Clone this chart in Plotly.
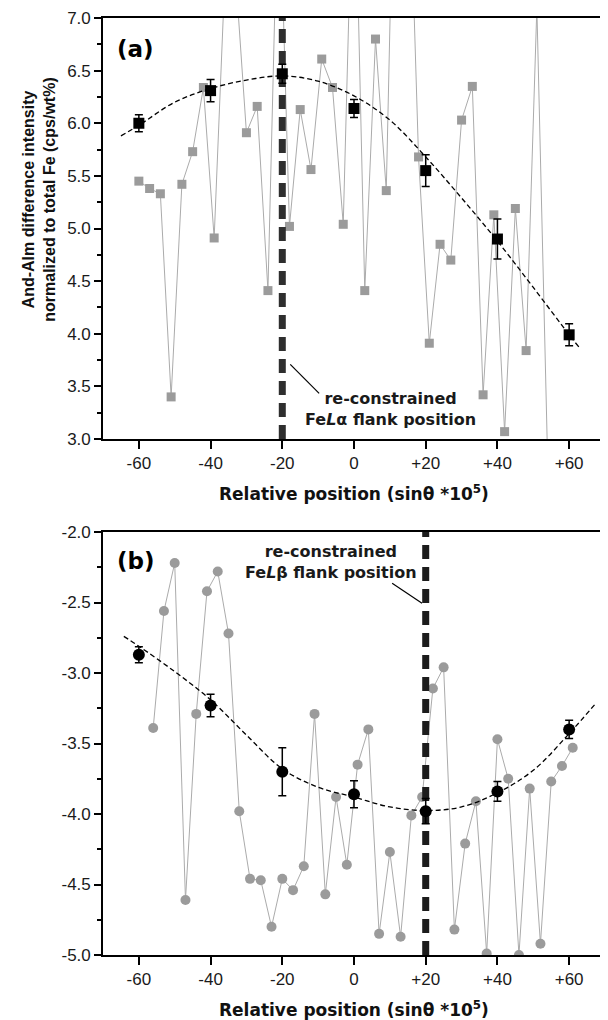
import plotly.graph_objects as go

# ---------------- data: panel (a) ----------------
scan_a_x = [-60, -57, -54, -51, -48, -45, -42, -39, -36, -33, -30, -27, -24, -21, -18, -15, -12, -9, -6, -3,
            0, 3, 6, 9, 12, 15, 18, 21, 24, 27, 30, 33, 36, 39, 42, 45, 48, 51, 54]
scan_a_y = [5.45, 5.38, 5.33, 3.40, 5.42, 5.73, 6.34, 4.91, 7.40, 7.40, 5.91, 6.16, 4.41, 8.60, 5.02, 6.13, 5.56, 6.61, 6.34, 5.04,
            8.90, 4.41, 6.80, 5.36, 10.0, 9.00, 5.68, 3.91, 4.85, 4.70, 6.03, 6.35, 3.42, 5.13, 3.07, 5.19, 3.84, 7.10, 2.80]

mean_a_x = [-60, -40, -20, 0, 20, 40, 60]
mean_a_y = [6.00, 6.31, 6.47, 6.14, 5.55, 4.90, 3.99]
mean_a_err = [0.08, 0.105, 0.09, 0.085, 0.15, 0.19, 0.105]

fit_a_x = [-65, -60, -50, -40, -30, -20, -10, 0, 10, 20, 30, 40, 50, 60, 62.8]
fit_a_y = [5.88, 5.98, 6.20, 6.33, 6.41, 6.45, 6.40, 6.26, 6.03, 5.68, 5.29, 4.88, 4.44, 3.99, 3.87]

flank_a = -20

# ---------------- data: panel (b) ----------------
scan_b_x = [-56, -53, -50, -47, -44, -41, -38, -35, -32, -29, -26, -23, -20, -17, -14, -11, -8, -5, -2, 1,
            4, 7, 10, 13, 16, 19, 22, 25, 28, 31, 34, 37, 40, 43, 46, 49, 52, 55, 58, 61]
scan_b_y = [-3.39, -2.56, -2.22, -4.61, -3.29, -2.42, -2.28, -2.72, -3.98, -4.46, -4.47, -4.80, -4.46, -4.54, -4.37, -3.29, -4.57, -3.88, -4.36, -3.65,
            -3.40, -4.85, -4.27, -4.87, -4.01, -3.88, -3.11, -2.96, -4.82, -4.21, -3.91, -4.99, -3.47, -3.75, -5.00, -3.82, -4.92, -3.77, -3.66, -3.53]

mean_b_x = [-60, -40, -20, 0, 20, 40, 60]
mean_b_y = [-2.87, -3.23, -3.70, -3.86, -3.98, -3.84, -3.40]
mean_b_err = [0.057, 0.08, 0.17, 0.095, 0.09, 0.07, 0.065]

fit_b_x = [-64.2, -60, -50, -40, -30, -20, -10, 0, 10, 20, 30, 40, 50, 60, 67.6]
fit_b_y = [-2.74, -2.81, -2.99, -3.19, -3.44, -3.68, -3.81, -3.88, -3.95, -3.975, -3.95, -3.85, -3.69, -3.43, -3.21]

flank_b = 20

x_tickvals = [-60, -40, -20, 0, 20, 40, 60]
x_ticktext = ["-60", "-40", "-20", "0", "+20", "+40", "+60"]
ya_tickvals = [3.0, 3.5, 4.0, 4.5, 5.0, 5.5, 6.0, 6.5, 7.0]
yb_tickvals = [-5.0, -4.5, -4.0, -3.5, -3.0, -2.5, -2.0]

y_range_a = [3, 7]
y_range_b = [-5, -2]

# ---------------- styles ----------------
GRAY_M = "#9b9b9b"
GRAY_L = "#ababab"
BOLD = "DejaVu Sans"
TICKF = dict(family="Liberation Sans, Arial", size=17, color="#1a1a1a")

fig = go.Figure()

# panel (a)
fig.add_trace(go.Scatter(x=scan_a_x, y=scan_a_y, mode="lines+markers", xaxis="x", yaxis="y",
                         line=dict(color=GRAY_L, width=1),
                         marker=dict(symbol="square", size=9, color=GRAY_M), showlegend=False))
fig.add_trace(go.Scatter(x=[flank_a, flank_a], y=y_range_a, mode="lines", xaxis="x", yaxis="y",
                         line=dict(color="#2e2e2e", width=7, dash="14px,8px"), showlegend=False))
fig.add_trace(go.Scatter(x=fit_a_x, y=fit_a_y, mode="lines", xaxis="x", yaxis="y",
                         line=dict(color="black", width=1.3, dash="5px,3px", shape="spline"), showlegend=False))
fig.add_trace(go.Scatter(x=mean_a_x, y=mean_a_y, mode="markers", xaxis="x", yaxis="y",
                         marker=dict(symbol="square", size=11, color="black"),
                         error_y=dict(type="data", array=mean_a_err, color="black", thickness=1.5, width=4),
                         showlegend=False))

# panel (b)
fig.add_trace(go.Scatter(x=scan_b_x, y=scan_b_y, mode="lines+markers", xaxis="x2", yaxis="y2",
                         line=dict(color=GRAY_L, width=1),
                         marker=dict(symbol="circle", size=10, color=GRAY_M), showlegend=False))
fig.add_trace(go.Scatter(x=[flank_b, flank_b], y=y_range_b, mode="lines", xaxis="x2", yaxis="y2",
                         line=dict(color="#1c1c1c", width=7, dash="14px,8px"), showlegend=False))
fig.add_trace(go.Scatter(x=fit_b_x, y=fit_b_y, mode="lines", xaxis="x2", yaxis="y2",
                         line=dict(color="black", width=1.3, dash="5px,3px", shape="spline"), showlegend=False))
fig.add_trace(go.Scatter(x=mean_b_x, y=mean_b_y, mode="markers", xaxis="x2", yaxis="y2",
                         marker=dict(symbol="circle", size=12, color="black"),
                         error_y=dict(type="data", array=mean_b_err, color="black", thickness=1.5, width=4),
                         showlegend=False))

# page has an 8px body margin: figure is drawn 8px right/down
OFF = 8
W, H = 600, 1012
ML, MR, MT, MB = 103 - OFF, 1, 18 - OFF, 1012 - (955 - OFF)
PH = H - MT - MB
PW = W - ML - MR


def py(ypx):
    return (H - MB - (ypx - OFF)) / PH


def px(xpx):
    return (xpx - OFF - ML) / PW


common_x = dict(range=[-70, 70], showline=True, linecolor="black", linewidth=1.6, mirror=True,
                ticks="outside", ticklen=8, tickwidth=1.5, tickcolor="black",
                tickmode="array", tickvals=x_tickvals, ticktext=x_ticktext,
                showgrid=False, zeroline=False, tickfont=TICKF)
common_y = dict(showline=True, linecolor="black", linewidth=1.6, mirror=True,
                ticks="outside", ticklen=7, tickwidth=1.5, tickcolor="black",
                tickmode="array", showgrid=False, zeroline=False, tickfont=TICKF,
                minor=dict(dtick=0.25, tick0=0, ticks="outside", ticklen=4, tickwidth=1.5,
                           tickcolor="black", showgrid=False))

fig.update_layout(
    width=W, height=H,
    margin=dict(l=ML, r=MR, t=MT, b=MB),
    plot_bgcolor="white", paper_bgcolor="white",
    xaxis=dict(domain=[0, 1], anchor="y", **common_x),
    yaxis=dict(domain=[py(439), 1], anchor="x", range=y_range_a,
               tickvals=ya_tickvals, ticktext=[f"{v:.1f}" for v in ya_tickvals], **common_y),
    xaxis2=dict(domain=[0, 1], anchor="y2", **common_x),
    yaxis2=dict(domain=[0, py(532)], anchor="x2", range=y_range_b,
                tickvals=yb_tickvals, ticktext=[f"{v:.1f}" for v in yb_tickvals], **common_y),
)

ann = []
# panel labels
ann.append(dict(text="<b>(a)</b>", xref="paper", yref="paper", x=px(115), y=py(49), xanchor="left", yanchor="middle",
                showarrow=False, font=dict(family=BOLD, size=23, color="black")))
ann.append(dict(text="<b>(b)</b>", xref="paper", yref="paper", x=px(115), y=py(561), xanchor="left", yanchor="middle",
                showarrow=False, font=dict(family=BOLD, size=23, color="black")))
# flank annotations
ann.append(dict(text="<b>re-constrained<br>Fe<i>L</i>\u03b1 flank position</b>", xref="paper", yref="paper",
                x=px(392), y=py(408.5), xanchor="center", yanchor="middle", align="center",
                showarrow=False, font=dict(family=BOLD, size=16, color="#1a1a1a")))
ann.append(dict(text="<b>re-constrained<br>Fe<i>L</i>\u03b2 flank position</b>", xref="paper", yref="paper",
                x=px(332), y=py(561.7), xanchor="center", yanchor="middle", align="center",
                showarrow=False, font=dict(family=BOLD, size=16, color="#1a1a1a")))
# axis titles
xt = "<b>Relative position (sin\u03b8 *10<sup>5</sup>)</b>"
ann.append(dict(text=xt, xref="paper", yref="paper", x=px(355), y=py(493), xanchor="center", yanchor="middle",
                showarrow=False, font=dict(family=BOLD, size=17, color="#111")))
ann.append(dict(text=xt, xref="paper", yref="paper", x=px(355), y=py(1009), xanchor="center", yanchor="middle",
                showarrow=False, font=dict(family=BOLD, size=17, color="#111")))
ann.append(dict(text="<b>And-Alm difference intensity<br>normalized to total Fe (cps/wt%)</b>",
                xref="paper", yref="paper", x=px(38.5), y=py(200), xanchor="center", yanchor="middle",
                textangle=-90, showarrow=False, align="center",
                font=dict(family="Liberation Sans, Arial", size=16, color="#111")))
fig.update_layout(annotations=ann)

# leader lines
fig.add_shape(type="line", xref="paper", yref="paper", x0=px(291), y0=py(364.3), x1=px(320), y1=py(393.3),
              line=dict(color="black", width=1.2))
fig.add_shape(type="line", xref="paper", yref="paper", x0=px(393.3), y0=py(583.3), x1=px(423.3), y1=py(603.3),
              line=dict(color="black", width=1.2))

fig.write_html("out.html")
